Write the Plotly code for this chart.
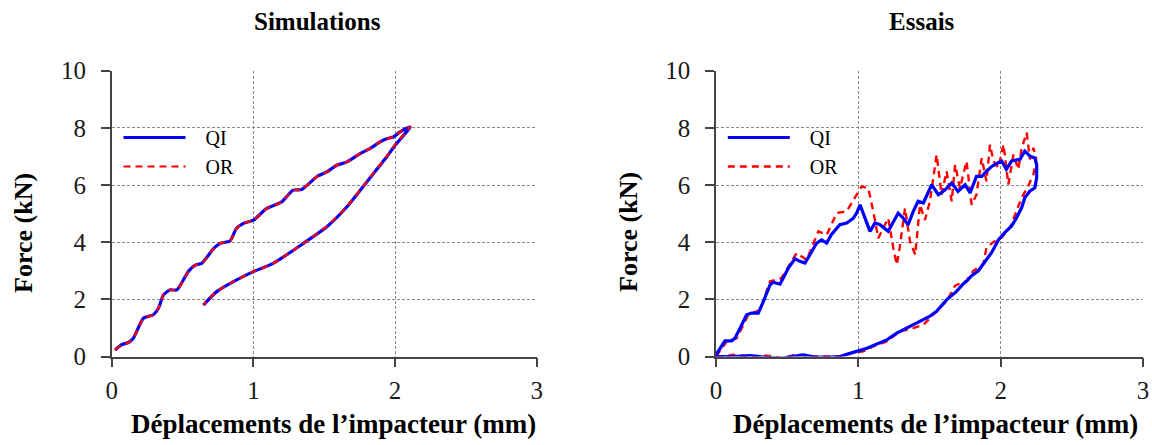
import plotly.graph_objects as go

# ---------------- Data ----------------
sim_qi_x = [0.024, 0.07, 0.118, 0.153, 0.224, 0.294, 0.33, 0.365, 0.41, 0.46, 0.54, 0.59, 0.635,
            0.72, 0.765, 0.835, 0.88, 0.93, 1.0, 1.094, 1.165, 1.2, 1.28, 1.34, 1.447, 1.518,
            1.588, 1.66, 1.753, 1.824, 1.894, 1.94, 1.988, 2.035, 2.106,
            2.0, 1.94, 1.8, 1.66, 1.518, 1.353, 1.14, 1.0, 0.859, 0.741, 0.647]
sim_qi_y = [0.23, 0.41, 0.49, 0.64, 1.34, 1.46, 1.69, 2.15, 2.33, 2.33, 2.97, 3.2, 3.26,
            3.78, 3.96, 4.04, 4.48, 4.66, 4.77, 5.18, 5.33, 5.41, 5.82, 5.84, 6.29, 6.46,
            6.69, 6.81, 7.10, 7.28, 7.51, 7.62, 7.68, 7.86, 8.03,
            7.39, 6.98, 6.11, 5.24, 4.54, 3.96, 3.26, 2.97, 2.62, 2.27, 1.80]
sim_or_x = [0.024, 0.07, 0.118, 0.153, 0.224, 0.294, 0.33, 0.365, 0.41, 0.46, 0.54, 0.59, 0.635,
            0.72, 0.765, 0.835, 0.88, 0.93, 1.0, 1.094, 1.165, 1.2, 1.28, 1.34, 1.447, 1.518,
            1.588, 1.66, 1.753, 1.824, 1.894, 1.94, 1.988, 2.035, 2.106,
            2.0, 1.94, 1.8, 1.66, 1.518, 1.353, 1.14, 1.0, 0.859, 0.741, 0.647]
sim_or_y = [0.23, 0.41, 0.49, 0.64, 1.34, 1.46, 1.69, 2.15, 2.33, 2.33, 2.97, 3.2, 3.26,
            3.78, 3.96, 4.04, 4.48, 4.66, 4.77, 5.18, 5.33, 5.41, 5.82, 5.84, 6.29, 6.46,
            6.69, 6.81, 7.10, 7.28, 7.51, 7.62, 7.68, 7.86, 8.03,
            7.41, 7.00, 6.12, 5.25, 4.55, 3.96, 3.26, 2.97, 2.62, 2.27, 1.80]

exp_qi_x = [0, 0.028, 0.063, 0.11, 0.133, 0.169, 0.215, 0.25, 0.297, 0.333, 0.38, 0.403, 0.45,
            0.508, 0.555, 0.59, 0.625, 0.66, 0.707, 0.742, 0.778, 0.81, 0.87, 0.918, 0.965,
            0.988, 1.012, 1.047, 1.082, 1.117, 1.152, 1.21, 1.246, 1.28, 1.316, 1.35, 1.386,
            1.42, 1.457, 1.49, 1.515, 1.562, 1.61, 1.656, 1.70, 1.75, 1.785, 1.83, 1.867, 1.90,
            1.937, 1.98, 2.007, 2.04, 2.077, 2.136, 2.17, 2.206, 2.24, 2.253,
            2.253, 2.24, 2.206, 2.17, 2.148, 2.112, 2.077, 2.03, 1.984, 1.937, 1.90, 1.843,
            1.796, 1.76, 1.738, 1.69, 1.62, 1.55, 1.50, 1.433, 1.34, 1.27, 1.2, 1.13, 1.06,
            0.988, 0.918, 0.87, 0.778, 0.684, 0.614, 0.543, 0.45, 0.356, 0.239, 0.122, 0]
exp_qi_y = [0.06, 0.29, 0.55, 0.55, 0.64, 0.99, 1.46, 1.52, 1.52, 1.93, 2.51, 2.60, 2.53,
            3.09, 3.42, 3.33, 3.27, 3.56, 3.97, 4.08, 3.97, 4.26, 4.61, 4.67, 4.84,
            5.02, 5.31, 4.84, 4.38, 4.67, 4.61, 4.38, 4.73, 5.02, 4.84, 4.61, 5.08,
            5.43, 5.37, 5.72, 6.01, 5.66, 5.83, 6.07, 5.78, 6.01, 5.72, 6.30, 6.30, 6.48,
            6.65, 6.77, 6.84, 6.55, 6.84, 6.90, 7.19, 7.01, 6.95, 6.72,
            6.26, 5.90, 5.79, 5.56, 5.21, 4.86, 4.57, 4.34, 4.08, 3.64, 3.40, 3.00,
            2.83, 2.63, 2.55, 2.28, 1.98, 1.58, 1.40, 1.23, 0.99, 0.82, 0.58, 0.43, 0.29,
            0.18, 0.08, 0.0, -0.03, -0.01, 0.06, 0.0, -0.06, -0.03, 0.03, 0.0, 0.0]

exp_or_x = [0, 0.075, 0.145, 0.227, 0.31, 0.38, 0.46, 0.567, 0.637, 0.719, 0.778, 0.848, 0.918,
            0.988, 1.023, 1.07, 1.105, 1.14, 1.176, 1.21, 1.246, 1.27, 1.29, 1.328, 1.363, 1.4,
            1.433, 1.468, 1.503, 1.55, 1.585, 1.62, 1.656, 1.68, 1.714, 1.76, 1.796, 1.83, 1.867,
            1.90, 1.925, 1.95, 1.984, 2.02, 2.054, 2.09, 2.124, 2.148, 2.183, 2.206, 2.23, 2.25,
            2.23, 2.194, 2.148, 2.112, 2.066, 2.007, 1.948, 1.90, 1.878, 1.808, 1.76, 1.68, 1.62,
            1.527, 1.457, 1.386, 1.293, 1.2, 1.105, 1.035, 0.94, 0.87, 0.8, 0.66, 0.567, 0.473,
            0.356, 0.25, 0.122, 0.05, 0]
exp_or_y = [0, 0.53, 0.64, 1.46, 1.63, 2.63, 2.74, 3.62, 3.38, 4.38, 4.26, 5.02, 5.08,
            5.66, 5.95, 5.89, 5.08, 4.14, 4.49, 4.84, 3.79, 3.21, 3.79, 5.19, 4.03, 3.56,
            5.31, 4.78, 5.43, 7.06, 5.66, 6.48, 5.43, 6.71, 5.89, 6.83, 5.31, 5.66, 6.94,
            6.13, 7.41, 6.83, 6.60, 7.42, 6.02, 7.07, 6.55, 7.30, 7.83, 6.90, 7.30, 6.90,
            6.37, 5.97, 5.56, 5.09, 4.51, 4.16, 4.00, 3.81, 3.23, 3.00, 2.65, 2.48, 1.93,
            1.46, 1.11, 0.99, 0.88, 0.53, 0.35, 0.18, 0.12, 0.0, 0.0, 0.0, 0.08, -0.06,
            0.03, 0.0, 0.06, 0.0, 0]

x_ticks = [0, 1, 2, 3]
y_ticks = [0, 2, 4, 6, 8, 10]
series_names = ["QI", "OR"]
panel_titles = ["Simulations", "Essais"]
x_title = "Déplacements de l’impacteur (mm)"
y_title = "Force (kN)"

# ---------------- Layout helpers ----------------
W, H = 1152, 445


def px(x):
    return x / W


def py(y):
    return 1 - y / H


FONT = "Liberation Serif"
BLUE = "#0000ff"
RED = "#ff0000"
LEG_PAD = "\u00a0\u00a0\u00a0"

fig = go.Figure()

fig.add_trace(go.Scatter(x=sim_qi_x, y=sim_qi_y, mode="lines", name=LEG_PAD + series_names[0],
                         line=dict(color=BLUE, width=3.2, shape="spline", smoothing=0.6),
                         xaxis="x", yaxis="y", legend="legend"))
fig.add_trace(go.Scatter(x=sim_or_x, y=sim_or_y, mode="lines", name=LEG_PAD + series_names[1],
                         line=dict(color=RED, width=2.2, dash="7px,5px", shape="spline", smoothing=0.6),
                         xaxis="x", yaxis="y", legend="legend"))
fig.add_trace(go.Scatter(x=exp_or_x, y=exp_or_y, mode="lines", name=LEG_PAD + series_names[1],
                         line=dict(color=RED, width=2.4, dash="7px,5px"),
                         xaxis="x2", yaxis="y2", legend="legend2"))
fig.add_trace(go.Scatter(x=exp_qi_x, y=exp_qi_y, mode="lines", name=LEG_PAD + series_names[0],
                         line=dict(color=BLUE, width=3.2),
                         xaxis="x2", yaxis="y2", legend="legend2"))

axis_common = dict(
    showgrid=True, gridcolor="#8a8a8a", gridwidth=1, griddash="3px,2px",
    showline=True, linecolor="#444444", linewidth=1.5,
    ticks="outside", ticklen=9, tickwidth=1.5, tickcolor="#444444",
    zeroline=False, automargin=False, fixedrange=True,
    tickfont=dict(family=FONT, size=25, color="#1a1a1a"),
)

xd1 = [px(111.7), px(536.8)]
xd2 = [px(716.0), px(1143.0)]
yd = [py(356.5), py(70.7)]

legend_common = dict(xanchor="left", yanchor="top", bgcolor="rgba(255,255,255,0)", borderwidth=0,
                     itemwidth=62, font=dict(family=FONT, size=20, color="black"), tracegroupgap=0)

fig.update_layout(
    width=W, height=H,
    margin=dict(l=0, r=0, t=0, b=0),
    paper_bgcolor="white", plot_bgcolor="white",
    template="none",
    xaxis=dict(domain=xd1, range=[0, 3], tickvals=x_ticks, anchor="y", ticklabelstandoff=2, **axis_common),
    yaxis=dict(domain=yd, range=[0, 10], tickvals=y_ticks, anchor="x", ticklabelstandoff=10, **axis_common),
    xaxis2=dict(domain=xd2, range=[0, 3], tickvals=x_ticks, anchor="y2", ticklabelstandoff=2, **axis_common),
    yaxis2=dict(domain=yd, range=[0, 10], tickvals=y_ticks, anchor="x2", ticklabelstandoff=10, **axis_common),
    legend=dict(x=px(118.5), y=py(118), traceorder="normal", **legend_common),
    legend2=dict(x=px(722.8), y=py(118), traceorder="reversed", **legend_common),
    showlegend=True,
)

title_font = dict(family=FONT, size=25, color="black")
xtitle_font = dict(family=FONT, size=27, color="black")
ytitle_font = dict(family=FONT, size=26, color="black")
ann = []
for txt, cx in zip(panel_titles, [317.5, 922.0]):
    ann.append(dict(text=f"<b>{txt}</b>", x=px(cx), y=py(22), xref="paper", yref="paper",
                    xanchor="center", yanchor="middle", showarrow=False, font=title_font))
for cx in [333.0, 935.0]:
    ann.append(dict(text=f"<b>{x_title}</b>", x=px(cx), y=py(424), xref="paper", yref="paper",
                    xanchor="center", yanchor="middle", showarrow=False, font=xtitle_font))
for cx, cy in [(23.0, 233.0), (628.0, 232.0)]:
    ann.append(dict(text=f"<b>{y_title}</b>", x=px(cx), y=py(cy), xref="paper", yref="paper",
                    xanchor="center", yanchor="middle", showarrow=False, textangle=-90, font=ytitle_font))
fig.update_layout(annotations=ann)

fig.write_html(
    "out.html",
    config={"displayModeBar": False},
    post_script="document.body.style.margin='0';document.body.style.overflow='hidden';",
)
